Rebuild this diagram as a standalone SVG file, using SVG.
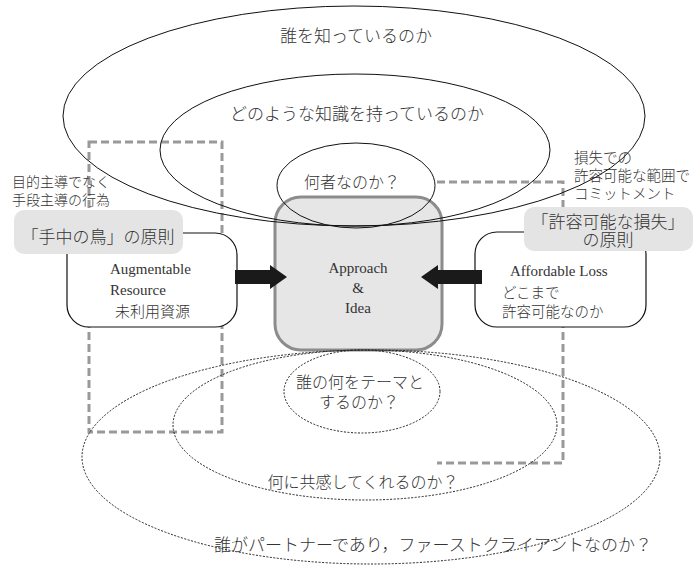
<svg xmlns="http://www.w3.org/2000/svg" width="693" height="566" viewBox="0 0 693 566">
<style>
.jp{font-family:"Liberation Serif","Noto Sans CJK JP",serif;fill:#333;font-weight:300}
.en{font-family:"Liberation Serif",serif;fill:#333}
.solid{fill:none;stroke:#111;stroke-width:1}
.dot{fill:none;stroke:#222;stroke-width:1;stroke-dasharray:2 1.5}
.dash{fill:none;stroke:#999;stroke-width:3;stroke-dasharray:8 4}
.label{fill:#e4e4e4;stroke:none}
.box{fill:#fff;stroke:#111;stroke-width:1.2}
.arrow{fill:#1a1a1a}
</style>
<rect width="693" height="566" fill="#fff"/>
<g id="dashed-frames">
<rect class="dash" x="89" y="142" width="133" height="290"/>
<path class="dash" d="M437 182 H563 V463 H437"/>
</g>
<g id="approach">
<rect x="275" y="197" width="167" height="153" rx="26" fill="#e6e6e6" stroke="#8c8c8c" stroke-width="3"/>
<text class="en" font-size="15" text-anchor="middle" x="358" y="273">Approach</text>
<text class="en" font-size="15" text-anchor="middle" x="358" y="293">&amp;</text>
<text class="en" font-size="15" text-anchor="middle" x="358" y="313">Idea</text>
</g>
<g id="augmentable">
<rect class="box" x="67" y="233" width="170" height="94" rx="22"/>
<text class="en" font-size="15" x="110" y="274">Augmentable</text>
<text class="en" font-size="15" x="110" y="295">Resource</text>
<text class="jp" font-size="15" x="115" y="317">未利用資源</text>
</g>
<g id="bird-in-hand">
<rect class="label" x="14" y="210" width="169" height="44" rx="10"/>
<text class="jp" font-size="17" text-anchor="middle" x="98" y="243">「手中の鳥」の原則</text>
<text class="jp" font-size="14" x="12" y="187">目的主導でなく</text>
<text class="jp" font-size="14" x="12" y="205">手段主導の行為</text>
</g>
<g id="affordable">
<rect class="box" x="475" y="232" width="171" height="95" rx="22"/>
<text class="en" font-size="15" x="510" y="276">Affordable Loss</text>
<text class="jp" font-size="14.5" x="502" y="298">どこまで</text>
<text class="jp" font-size="14.5" x="502" y="317">許容可能なのか</text>
</g>
<g id="affordable-loss-principle">
<rect class="label" x="524" y="207" width="169" height="44" rx="10"/>
<text class="jp" font-size="17" text-anchor="middle" x="608" y="228">「許容可能な損失」</text>
<text class="jp" font-size="17" text-anchor="middle" x="608" y="246">の原則</text>
<text class="jp" font-size="14.5" x="574" y="163">損失での</text>
<text class="jp" font-size="14.5" x="574" y="181">許容可能な範囲で</text>
<text class="jp" font-size="14.5" x="574" y="199">コミットメント</text>
</g>
<g id="who-you-know">
<ellipse class="solid" cx="354" cy="116" rx="291" ry="110"/>
<text class="jp" font-size="17" text-anchor="middle" x="356" y="42">誰を知っているのか</text>
</g>
<g id="what-you-know">
<ellipse class="solid" cx="355" cy="150" rx="195" ry="76"/>
<text class="jp" font-size="17" text-anchor="middle" x="357" y="120">どのような知識を持っているのか</text>
</g>
<g id="who-you-are">
<ellipse class="solid" cx="356" cy="185.5" rx="79" ry="42.5"/>
<text class="jp" font-size="16" text-anchor="middle" x="352" y="188">何者なのか？</text>
</g>
<g id="partner">
<ellipse class="dot" cx="371" cy="457" rx="289" ry="107"/>
<text class="jp" font-size="17" text-anchor="middle" x="433" y="551">誰がパートナーであり，ファーストクライアントなのか？</text>
</g>
<g id="empathy">
<ellipse class="dot" cx="365" cy="425" rx="192" ry="75"/>
<text class="jp" font-size="16" text-anchor="middle" x="363" y="488">何に共感してくれるのか？</text>
</g>
<g id="theme">
<ellipse class="dot" cx="362" cy="391.5" rx="78" ry="41.5"/>
<text class="jp" font-size="16" text-anchor="middle" x="360" y="388">誰の何をテーマと</text>
<text class="jp" font-size="16" text-anchor="middle" x="359" y="408">するのか？</text>
</g>
<g id="connectors">
<polygon class="arrow" points="235,270 270,270 270,265 287,277 270,289 270,284 235,284"/>
<polygon class="arrow" points="482,270 438,270 438,265 421,277 438,289 438,284 482,284"/>
</g>
</svg>
